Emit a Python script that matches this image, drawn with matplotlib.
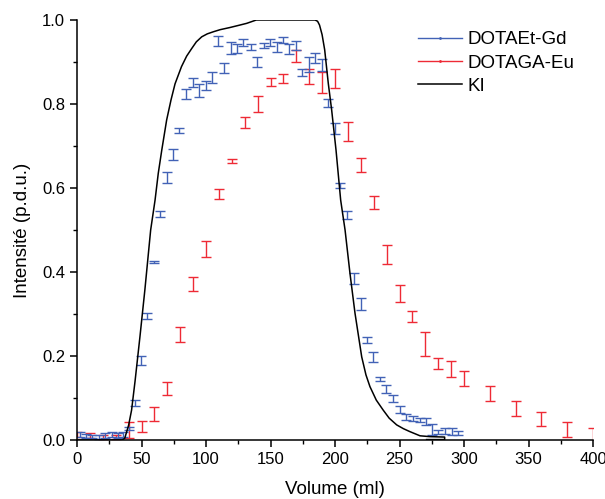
import matplotlib
matplotlib.use("Agg")
import matplotlib.pyplot as plt
from matplotlib.lines import Line2D
from matplotlib.ticker import MultipleLocator

plt.rcParams["font.family"] = ["Liberation Sans", "DejaVu Sans"]

# DOTAEt-Gd (blue): volume (ml), intensity, error
gd_x = [2, 7, 12, 17, 22, 27, 32, 36, 40, 45, 49.5, 54.5, 59.5, 64.3, 69.5,
        74.7, 79.3, 84.3, 89.7, 94.8, 99.7, 104.9, 109.5, 113.9, 119.7, 124.3,
        128.9, 134.6, 139.3, 144.9, 149.6, 154.8, 159.5, 164.6, 169.5, 174.7,
        179.8, 184.5, 189.7, 194.8, 200, 203.9, 209.5, 215, 220.2, 224.6,
        229.7, 235, 239.3, 244.7, 250.2, 255, 260.7, 266, 270.3, 275, 280,
        285.3, 290.9, 295.6]
gd_y = [0.013, 0.009, 0.008, 0.007, 0.010, 0.012, 0.010, 0.012, 0.028, 0.088,
        0.189, 0.295, 0.424, 0.538, 0.625, 0.679, 0.738, 0.823, 0.851, 0.832,
        0.844, 0.863, 0.950, 0.886, 0.933, 0.933, 0.946, 0.936, 0.899, 0.939,
        0.946, 0.935, 0.952, 0.930, 0.940, 0.875, 0.895, 0.909, 0.893, 0.802,
        0.741, 0.605, 0.536, 0.385, 0.323, 0.239, 0.197, 0.146, 0.121, 0.099,
        0.073, 0.055, 0.052, 0.048, 0.044, 0.025, 0.019, 0.021, 0.020, 0.017]
gd_err = [0.006, 0.005, 0.004, 0.004, 0.006, 0.006, 0.006, 0.006, 0.004, 0.007,
          0.010, 0.008, 0.003, 0.008, 0.012, 0.013, 0.006, 0.012, 0.011, 0.016,
          0.011, 0.014, 0.013, 0.011, 0.014, 0.011, 0.008, 0.008, 0.012, 0.006,
          0.008, 0.012, 0.007, 0.012, 0.011, 0.008, 0.018, 0.012, 0.014, 0.009,
          0.013, 0.006, 0.009, 0.013, 0.014, 0.007, 0.012, 0.005, 0.010, 0.008,
          0.008, 0.007, 0.006, 0.005, 0.008, 0.012, 0.005, 0.007, 0.008, 0.005]

# DOTAGA-Eu (red)
eu_x = [0, 10, 20, 30, 40, 50, 60, 70, 80, 90, 100, 110, 120, 130, 140, 150,
        160, 170, 180, 190, 200, 210, 220, 230, 240, 250, 260, 270, 280, 290,
        300, 320, 340, 360, 380, 400]
eu_y = [0.012, 0.010, 0.008, 0.008, 0.023, 0.032, 0.062, 0.122, 0.252, 0.372,
        0.454, 0.586, 0.664, 0.756, 0.800, 0.853, 0.860, 0.915, 0.865, 0.852,
        0.861, 0.735, 0.654, 0.565, 0.442, 0.348, 0.293, 0.229, 0.183, 0.169,
        0.146, 0.111, 0.076, 0.050, 0.026, 0.012]
eu_err = [0.006, 0.006, 0.005, 0.005, 0.019, 0.014, 0.017, 0.015, 0.018, 0.017,
          0.019, 0.012, 0.005, 0.012, 0.019, 0.010, 0.011, 0.014, 0.018, 0.025,
          0.022, 0.022, 0.017, 0.016, 0.023, 0.020, 0.013, 0.029, 0.013, 0.018,
          0.018, 0.018, 0.018, 0.017, 0.018, 0.016]

# KI (black line)
ki_x = [0, 35, 37, 40, 42.3, 45, 48.8, 52.6, 57.1, 60.5, 63, 65.7, 69.5,
        72.9, 76, 81, 85, 88.9, 92.5, 96.7, 101, 105.7, 111, 118.4, 125,
        131.5, 139, 184.5, 186.5, 188, 190, 192, 194.8, 197.4, 200.8, 204.4,
        207.8, 211.6, 215.5, 220.7, 224, 227.1, 232, 237.4, 242, 247.8, 253,
        258, 265.9, 273.6, 285, 285, 271]
ki_y = [0.0, 0.0, 0.004, 0.035, 0.071, 0.14, 0.246, 0.357, 0.5, 0.571, 0.635,
        0.69, 0.762, 0.81, 0.848, 0.889, 0.914, 0.932, 0.948, 0.96, 0.967,
        0.972, 0.977, 0.982, 0.987, 0.992, 1.0, 1.0, 0.997, 0.988, 0.965,
        0.929, 0.849, 0.786, 0.69, 0.571, 0.5, 0.397, 0.302, 0.198, 0.155,
        0.127, 0.095, 0.071, 0.052, 0.036, 0.027, 0.02, 0.01, 0.008, 0.007,
        0.001, 0.001]

blue = "#4262b6"
red = "#ee2a35"

fig = plt.figure(figsize=(6.05, 4.99), dpi=100)
ax = fig.add_axes([77 / 605, 59 / 499, 516 / 605, 420 / 499])

ax.errorbar(eu_x, eu_y, yerr=eu_err, fmt="none", ecolor=red, elinewidth=1.0,
            capsize=3.3, capthick=1.0)
ax.errorbar(gd_x, gd_y, yerr=gd_err, fmt="none", ecolor=blue, elinewidth=1.0,
            capsize=3.3, capthick=1.0)
ax.plot(ki_x, ki_y, color="black", lw=1.1)

ax.set_xlim(0, 400)
ax.set_ylim(0, 1.0)
ax.xaxis.set_major_locator(MultipleLocator(50))
ax.xaxis.set_minor_locator(MultipleLocator(25))
ax.yaxis.set_major_locator(MultipleLocator(0.2))
ax.yaxis.set_minor_locator(MultipleLocator(0.1))
ax.yaxis.set_major_formatter(matplotlib.ticker.FormatStrFormatter("%.1f"))

for s in ("top", "right"):
    ax.spines[s].set_visible(False)
for s in ("left", "bottom"):
    ax.spines[s].set_linewidth(1.1)
ax.tick_params(which="major", direction="out", length=5, width=1.1,
               labelsize=12)
ax.tick_params(which="minor", direction="out", length=3, width=1.0)

ax.set_xlabel("Volume (ml)", fontsize=13.5, labelpad=10)
ax.set_ylabel("Intensité (p.d.u.)", fontsize=13.5, labelpad=8)

handles = [
    Line2D([], [], color=blue, lw=1.0, marker=".", markersize=2),
    Line2D([], [], color=red, lw=1.0, marker=".", markersize=2),
    Line2D([], [], color="black", lw=1.1),
]
ax.legend(handles, ["DOTAEt-Gd", "DOTAGA-Eu", "KI"], loc="upper right",
          bbox_to_anchor=(0.985, 1.0), frameon=False, fontsize=13.5,
          handlelength=2.3, handletextpad=0.3, labelspacing=0.32,
          borderaxespad=0.2)

fig.savefig("out.png", dpi=100)
